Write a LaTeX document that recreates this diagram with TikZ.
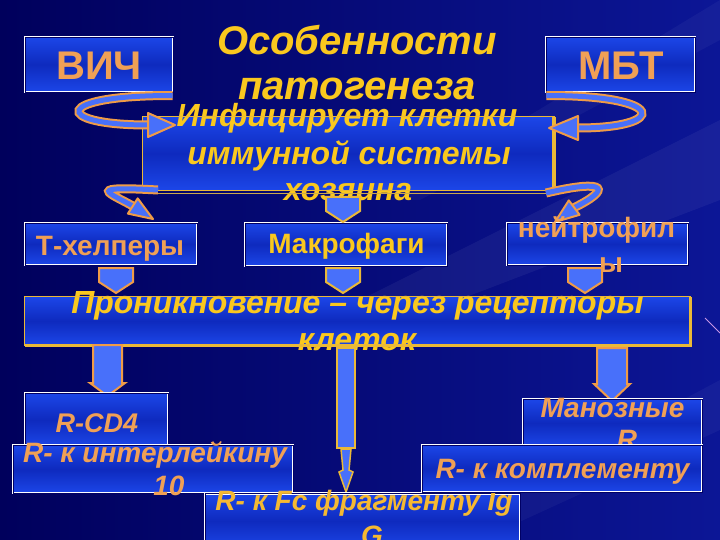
\documentclass[tikz,border=0pt]{standalone}
\usepackage{fontspec}
\setmainfont{Liberation Sans}
\usetikzlibrary{calc}
\definecolor{bgA}{RGB}{0,0,92}
\definecolor{bgB}{RGB}{12,22,150}
\definecolor{boxblue}{RGB}{28,70,232}
\definecolor{boxdark}{RGB}{14,42,190}
\definecolor{lightblue}{RGB}{72,112,250}
\definecolor{orng}{RGB}{240,155,70}
\definecolor{gold}{RGB}{235,185,55}
\definecolor{ytext}{RGB}{250,200,30}
\definecolor{otext}{RGB}{240,160,85}
\definecolor{fctext}{RGB}{245,185,50}
\definecolor{navyline}{RGB}{0,0,100}
\definecolor{streak}{RGB}{200,150,230}
\begin{document}
\begin{tikzpicture}[x=1pt,y=-1pt,
  wbox/.style={draw=white, line width=1.1pt, double=navyline, double distance=0.7pt,
    top color=boxblue, bottom color=boxblue, middle color=boxdark, inner sep=0pt},
  gboxfill/.style={top color=boxblue, bottom color=boxblue, middle color=boxdark},
  upr/.style={font=\bfseries\fontsize{#1}{#1}\selectfont, anchor=base, inner sep=0pt},
  ita/.style={font=\bfseries\itshape\fontsize{#1}{#1}\selectfont, anchor=base, inner sep=0pt},
  ribbon/.style={draw=orng, line width=2pt, double=lightblue, double distance=5pt},
  headstyle/.style={fill=lightblue, draw=orng, line width=2pt, line join=round},
  tabstyle/.style={fill=lightblue, draw=#1, line width=2pt, line join=miter},
]
\useasboundingbox (0,0) rectangle (720,540);
% background
\fill[left color=bgA, right color=bgB] (0,0) rectangle (720,540);
\fill[white, opacity=0.05] (720,120) -- (720,200) -- (380,330) -- (300,330) -- cycle;
\fill[white, opacity=0.04] (720,0) -- (720,40) -- (420,200) -- (390,200) -- cycle;
\fill[white, opacity=0.04] (720,380) -- (720,430) -- (480,540) -- (420,540) -- cycle;
\draw[streak, line width=0.8pt] (705,318) -- (720,333);

% title
\node[ita=40, text=ytext] (t1) at (357,55) {Особенности};
\node[ita=40, text=ytext] (t2) at (357,100) {патогенеза};

% top boxes
\node[wbox, minimum width=148pt, minimum height=55pt] (vich) at (99,64.5) {};
\node[upr=40, text=otext] (vicht) at (99,80) {ВИЧ};
\node[wbox, minimum width=149pt, minimum height=55pt] (mbt) at (620.5,64.5) {};
\node[upr=40, text=otext] (mbtt) at (621,80) {МБТ};

% central box
\node[gboxfill, minimum width=411pt, minimum height=73pt, inner sep=0pt] (inf) at (348.5,153.5) {};
\node[ita=32, text=ytext] (inf1) at (347,127) {Инфицирует клетки};
\node[ita=32, text=ytext] (inf2) at (349,165) {иммунной системы};
\node[ita=32, text=ytext] (inf3) at (348,201) {хозяина};
\draw[gold, line width=1.2pt] (inf.south west) rectangle (inf.north east);
\draw[gold!70!gray, line width=0.6pt] ($(inf.south west)+(0,3)$) -- ($(inf.south east)+(0,3)$);
\draw[gold, line width=3.5pt] (inf.north east) -- (inf.south east);

% curved ribbons
\coordinate (h1b) at (148,125);
\draw[ribbon] ($(vich.south east)+(-1,3)$) .. controls (52,95) and (52,125) .. (h1b);
\filldraw[headstyle] (148,113) -- (175,125) -- (148,137) -- cycle;
\coordinate (h2b) at (578,128);
\draw[ribbon] ($(mbt.south west)+(1,3)$) .. controls (668,95) and (668,128) .. (h2b);
\filldraw[headstyle] (578,116) -- (549,128) -- (578,140) -- cycle;
\coordinate (h3b) at (132.8,206);
\draw[ribbon] (158,190) .. controls (85,186) and (108,192) .. (h3b);
\filldraw[headstyle] (127.9,213.6) -- (153,219) -- (137.7,198.4) -- cycle;
\coordinate (h4b) at (574.2,207.6);
\draw[ribbon] (546,193) .. controls (610,178) and (610,190) .. (h4b);
\filldraw[headstyle] (579.6,214.8) -- (555,222) -- (568.8,200.4) -- cycle;

% second row
\node[wbox, minimum width=172pt, minimum height=42pt] (th) at (111,244) {};
\node[upr=28, text=otext] (tht) at (110,255) {Т-хелперы};
\node[wbox, minimum width=202pt, minimum height=43pt] (mac) at (346,244.5) {};
\node[upr=28, text=ytext] (mact) at (346.5,253) {Макрофаги};
\node[wbox, minimum width=181pt, minimum height=42pt] (neu) at (597.5,244) {};
\node[upr=28, text=otext] (neu1) at (596.5,237) {нейтрофил};
\node[upr=28, text=otext] (neu2) at (611,272) {ы};

% small tabs
\foreach \cx/\cy/\cc in {343/197/gold, 116/268/orng, 343/268/gold, 585/268/orng}{
  \filldraw[tabstyle=\cc] (\cx-17,\cy) -- (\cx+17,\cy) -- (\cx+17,\cy+14) -- (\cx,\cy+25) -- (\cx-17,\cy+14) -- cycle;
}

% penetration box
\node[gboxfill, minimum width=665pt, minimum height=48pt, inner sep=0pt] (pen) at (357.5,321) {};
\node[ita=32, text=ytext] (pen1) at (357.5,313) {Проникновение – через рецепторы};
\node[ita=32, text=ytext] (pen2) at (357,350) {клеток};
\draw[gold, line width=1.2pt] (pen.south west) rectangle (pen.north east);
\draw[gold, line width=3pt] (pen.south west) -- (pen.south east) -- (pen.north east);

% big arrows
\filldraw[tabstyle=orng] (93,345) -- (122,345) -- (122,383) -- (125,383) -- (107.5,396) -- (90,383) -- (93,383) -- cycle;
\filldraw[tabstyle=orng] (597,348) -- (627,348) -- (627,384) -- (630,384) -- (612,401) -- (594,384) -- (597,384) -- cycle;
\filldraw[tabstyle=gold] (337,348) rectangle (355,448);
\filldraw[fill=lightblue, draw=gold, line width=1.5pt, line join=miter]
  (341,449) -- (343,470) -- (339,472) -- (346,492) -- (353,472) -- (349,470) -- (351,449) -- cycle;

% bottom left boxes
\node[wbox, minimum width=143pt, minimum height=54pt] (cd4) at (96.5,420) {};
\node[ita=27, text=otext] (cd4t) at (97,432) {R-CD4};
\node[wbox, minimum width=280pt, minimum height=48pt] (il) at (153,469) {};
\node[ita=28, text=otext] (il1) at (155,462) {R- к интерлейкину};
\node[ita=28, text=otext] (il2) at (169,495) {10};
\node[wbox, minimum width=315pt, minimum height=55pt] (fc) at (362.5,521) {};
\node[ita=28, text=fctext] (fc1) at (364,510) {R- к Fc фрагменту Ig};
\node[ita=28, text=fctext] (fc2) at (372,545) {G};

% bottom right boxes
\node[wbox, minimum width=179pt, minimum height=48pt] (man) at (612.5,423) {};
\node[ita=28, text=otext] (man1) at (612.5,417) {Манозные};
\node[ita=28, text=otext] (man2) at (627,449) {R};
\node[wbox, minimum width=280pt, minimum height=47pt] (comp) at (562,468.5) {};
\node[ita=28, text=otext] (compt) at (562.5,478) {R- к комплементу};
\end{tikzpicture}
\end{document}
